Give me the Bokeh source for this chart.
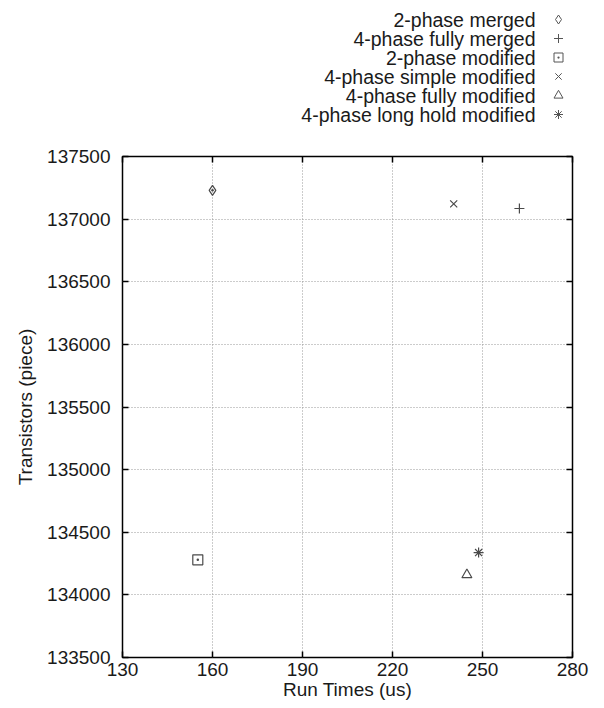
from bokeh.plotting import figure
from bokeh.layouts import column
from bokeh.models import FixedTicker, LinearAxis, Range1d, ColumnDataSource, BasicTickFormatter
from bokeh.core.properties import value
from bokeh.embed import file_html
from bokeh.resources import INLINE

# ---- data ----
series = ["2-phase merged", "4-phase fully merged", "2-phase modified",
          "4-phase simple modified", "4-phase fully modified", "4-phase long hold modified"]
run_times = [160.0, 262.3, 155.1, 240.4, 244.8, 248.7]
transistors = [137230, 137085, 134280, 137122, 134160, 134338]
markers = ["diamond_dot", "cross", "square_dot", "x", "triangle", "asterisk"]
legend_markers = ["diamond", "cross", "square_dot", "x", "triangle", "asterisk"]
x_ticks = [130, 160, 190, 220, 250, 280]
y_ticks = [133500, 134000, 134500, 135000, 135500, 136000, 136500, 137000, 137500]

FONT = "Liberation Sans"
MARK = "#4a4a4a"
TXT = "#1a1a1a"

# ---- legend panel (text on the left, symbol on the right) ----
# The column layout aligns this panel's frame with the main plot frame (x 122..572),
# so the legend's own range is expressed in page pixels.
LEG_H = 140
leg = figure(width=604, height=LEG_H, x_range=Range1d(122, 572), y_range=Range1d(LEG_H, 0),
             output_backend="svg", toolbar_location=None, title=None,
             x_axis_location=None, y_axis_location=None,
             min_border_left=122, min_border_right=32, min_border_top=0, min_border_bottom=0)
leg.grid.visible = False
leg.outline_line_color = None
rows = [19 + 19 * i for i in range(len(series))]
leg.text(x=[535] * len(series), y=rows, text=series, text_align="right", text_baseline="middle",
         text_font=value(FONT), text_font_size="19.5px", text_color=TXT)
for i, m in enumerate(legend_markers):
    leg.scatter(x=[558], y=[rows[i]], marker=m, size=9, line_color="#555555", fill_color=None, line_width=1)

# ---- main plot ----
p = figure(width=604, height=568, x_range=Range1d(130, 280), y_range=Range1d(133500, 137500),
           output_backend="svg", toolbar_location=None,
           min_border_left=122, min_border_right=32, min_border_top=16, min_border_bottom=51,
           x_axis_label="Run Times (us)", y_axis_label="Transistors (piece)")
p.outline_line_color = "black"
p.outline_line_width = 1.5

for ax, ticks in ((p.xaxis[0], x_ticks), (p.yaxis[0], y_ticks)):
    ax.ticker = FixedTicker(ticks=ticks)
    ax.formatter = BasicTickFormatter(use_scientific=False)
    ax.minor_tick_line_color = None
    ax.major_tick_in = 6
    ax.major_tick_out = 0
    ax.major_tick_line_width = 1.5
    ax.axis_line_color = None
    ax.major_label_text_font = FONT
    ax.major_label_text_font_size = "19px"
    ax.major_label_text_color = TXT
    ax.axis_label_text_font = FONT
    ax.axis_label_text_font_size = "19px"
    ax.axis_label_text_font_style = "normal"
    ax.axis_label_text_color = TXT
p.xaxis[0].major_label_standoff = 5
p.xaxis[0].axis_label_standoff = 0
p.yaxis[0].major_label_standoff = 12
p.yaxis[0].axis_label_standoff = 8

# mirror ticks on top and right
for loc, ticks in (("above", x_ticks), ("right", y_ticks)):
    ax = LinearAxis(ticker=FixedTicker(ticks=ticks))
    ax.minor_tick_line_color = None
    ax.major_tick_in = 6
    ax.major_tick_out = 0
    ax.major_tick_line_width = 1.5
    ax.axis_line_color = None
    ax.major_label_overrides = {t: "" for t in ticks}
    ax.major_label_standoff = 0
    p.add_layout(ax, loc)

p.xgrid.ticker = FixedTicker(ticks=x_ticks)
p.ygrid.ticker = FixedTicker(ticks=y_ticks)
p.grid.grid_line_color = "#999999"
p.grid.grid_line_dash = "1 2"
p.grid.grid_line_width = 1

for i in range(len(series)):
    src = ColumnDataSource(dict(x=[run_times[i]], y=[transistors[i]]))
    p.scatter("x", "y", source=src, marker=markers[i], size=10, line_color=MARK,
              fill_color=None, line_width=1.2)

layout = column(leg, p, spacing=0)
open("out.html", "w").write(file_html(layout, INLINE))
